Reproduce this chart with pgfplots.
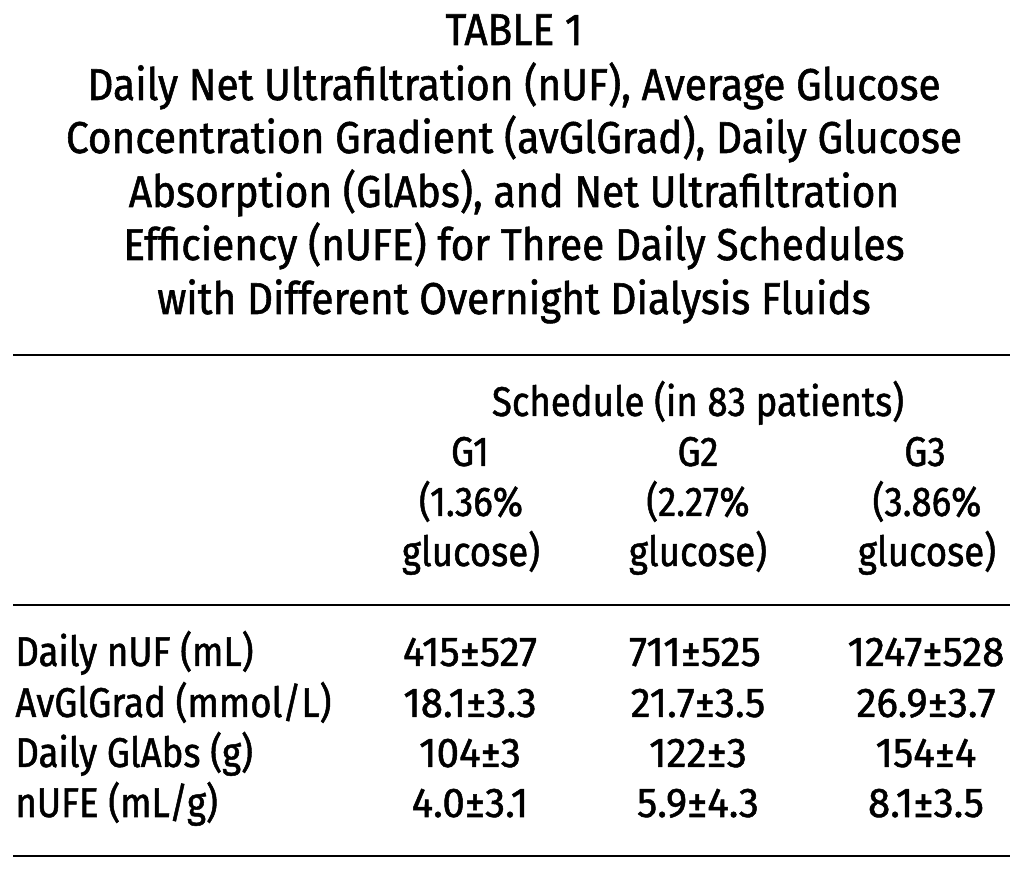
\documentclass[border=0pt]{standalone}
\usepackage{fontspec}
\setmainfont[FakeStretch=0.88, FakeBold=1.2]{Fira Sans}
\newfontfamily\titlefont[FakeStretch=0.91, FakeBold=1.2]{Fira Sans}
\newfontfamily\numfont[FakeStretch=0.97, FakeBold=1.2]{Fira Sans}
\usepackage{pgfplots}
\usepackage{pgfplotstable}
\pgfplotsset{compat=1.18}

% centred text: x centre (px), baseline y (px from top), text
\pgfplotstableread[col sep=semicolon]{
x;y;label
514;45;TABLE 1
514;100;Daily Net Ultrafiltration (nUF), Average Glucose
514;153;Concentration Gradient (avGlGrad), Daily Glucose
514;207;Absorption (GlAbs), and Net Ultrafiltration
514;260;Efficiency (nUFE) for Three Daily Schedules
514;314;with Different Overnight Dialysis Fluids
}\titletab

\pgfplotstableread[col sep=semicolon]{
x;y;label
698;416;Schedule (in 83 patients)
470;466;G1
698;466;G2
925;466;G3
471;516;(1.36\%
698;516;(2.27\%
927;516;(3.86\%
471;566;glucose)
698;566;glucose)
927;566;glucose)
}\headtab

\pgfplotstableread[col sep=semicolon]{
x;y;label
15;666;Daily nUF (mL)
15;717;AvGlGrad (mmol/L)
15;767;Daily GlAbs (g)
15;817;nUFE (mL/g)
}\rowtab

\pgfplotstableread[col sep=semicolon]{
x;y;label
470;666;415±527
695;666;711±525
926;666;1247±528
470;717;18.1±3.3
698;717;21.7±3.5
926;717;26.9±3.7
470;767;104±3
698;767;122±3
926;767;154±4
470;817;4.0±3.1
698;817;5.9±4.3
926;817;8.1±3.5
}\valtab

\begin{document}
\begin{tikzpicture}
\begin{axis}[
  scale only axis, width=514pt, height=435pt,
  xmin=0, xmax=1028, ymin=0, ymax=870, y dir=reverse,
  axis lines=none, ticks=none, clip=false,
  tablestyle/.style={draw=none, mark=none, nodes near coords,
    point meta=explicit symbolic,
    every node near coord/.append style={inner sep=0pt, text=black,
      font=\fontsize{20.8}{26}\selectfont}},
]
% invisible frame so the page is the whole axis area
\addplot[draw=none, mark=none] coordinates {(0,0) (1028,870)};
\addplot[tablestyle, every node near coord/.append style={anchor=base,
    font=\titlefont\fontsize{22.3}{26}\selectfont}]
  table[x=x, y=y, meta=label] {\titletab};
\addplot[tablestyle, every node near coord/.append style={anchor=base}]
  table[x=x, y=y, meta=label] {\headtab};
\addplot[tablestyle, every node near coord/.append style={anchor=base west}]
  table[x=x, y=y, meta=label] {\rowtab};
\addplot[tablestyle, every node near coord/.append style={anchor=base,
    font=\numfont\fontsize{20.8}{26}\selectfont}]
  table[x=x, y=y, meta=label] {\valtab};
\addplot[black, line width=0.75pt, mark=none] coordinates {(13,355) (1010,355)};
\addplot[black, line width=0.75pt, mark=none] coordinates {(13,605) (1010,605)};
\addplot[black, line width=0.75pt, mark=none] coordinates {(13,856) (1010,856)};
\end{axis}
\end{tikzpicture}
\end{document}
